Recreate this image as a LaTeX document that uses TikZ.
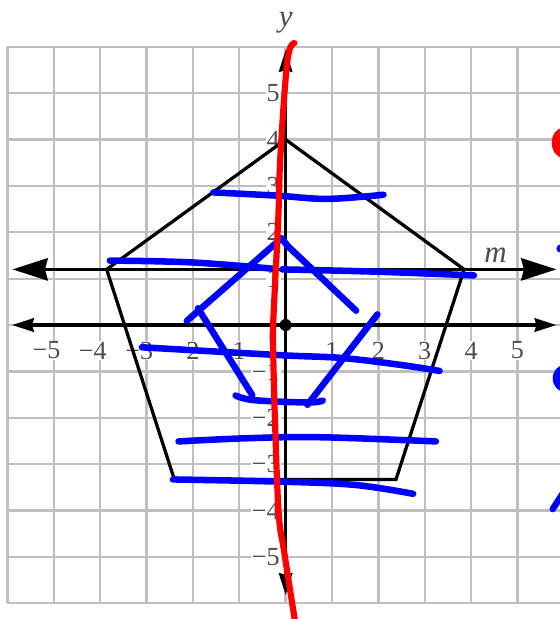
\documentclass[tikz,border=0pt]{standalone}
\usepackage{fontspec}
\setmainfont{Liberation Serif}
\usetikzlibrary{arrows.meta}
\begin{document}
\begin{tikzpicture}[x=1cm,y=1cm,
  gridline/.style={draw=black!25, line width=1.4pt},
  axisline/.style={draw=black, line width=2pt},
  smallarrow/.style={{Stealth[length=0.47cm,width=0.29cm,inset=0.04cm]}-{Stealth[length=0.47cm,width=0.29cm,inset=0.04cm]}},
  bigarrow/.style={{Stealth[length=0.76cm,width=0.48cm,inset=0.06cm]}-{Stealth[length=0.76cm,width=0.48cm,inset=0.06cm]}},
  shape line/.style={draw=black, line width=2pt, line join=miter},
  ticklbl/.style={text=black!70, fill=white, inner sep=0.6pt, font=\fontsize{16}{16}\selectfont},
  axislbl/.style={text=black!70, inner sep=0pt, font=\fontsize{19}{19}\selectfont\itshape},
  pen blue/.style={draw={rgb,255:red,0;green,0;blue,255}, line width=4pt, line cap=round, line join=round},
  pen red/.style={draw={rgb,255:red,255;green,0;blue,0}, line width=3.8pt, line cap=round, line join=round}]
\useasboundingbox (-6.16,-6.34) rectangle (5.90,7.01);
\fill[white] (-6.16,-6.34) rectangle (5.90,7.01);
% grid
\draw[gridline] (-6,-6) grid (6.6,6);
% tick labels
\foreach \n in {1,...,5} {
  \node[ticklbl] (xp\n) at (\n,-0.55) {\n};
  \node[ticklbl] (xn\n) at (-\n,-0.55) {\llap{−}\n};
  \node[ticklbl, anchor=east] (yp\n) at (-0.1,\n) {\n};
  \node[ticklbl, anchor=east] (yn\n) at (-0.1,-\n) {−\n};
}
% axes
\coordinate (xl) at (-5.9,0);
\coordinate (xr) at (5.84,0);
\coordinate (yb) at (0,-5.82);
\coordinate (yt) at (0,5.93);
\coordinate (ml) at (-5.89,1.2);
\coordinate (mr) at (5.84,1.2);
\draw[axisline, smallarrow] (xl) -- (xr);
\draw[axisline, smallarrow] (yb) -- (yt);
\draw[axisline, bigarrow] (ml) -- (mr);
\node[axislbl] (ylab) at (0,6.52) {y};
\node[axislbl] (mlab) at (4.53,1.5) {m};
\fill[black] (0,0) circle (0.13);
% pentagon
\coordinate (pa) at (0,4);
\coordinate (pb) at (3.85,1.2);
\coordinate (pc) at (2.38,-3.33);
\coordinate (pd) at (-2.4,-3.33);
\coordinate (pe) at (-3.86,1.2);
\draw[shape line] (pa) -- (pb) -- (pc) -- (pd) -- (pe) -- cycle;
% blue strokes
\draw[pen blue] plot[smooth, tension=0.6] coordinates {(-1.56,2.86) (-0.18,2.79) (0.90,2.72) (2.11,2.81)};
\draw[pen blue] plot[smooth, tension=0.6] coordinates {(-3.79,1.39) (-2.02,1.35) (-0.22,1.21)};
\draw[pen blue] plot[smooth, tension=0.6] coordinates {(-0.07,1.2) (1.97,1.15) (4.06,1.07)};
\draw[pen blue] (-0.09,1.87) -- (-2.13,0.09);
\draw[pen blue] (-1.89,0.36) -- (-0.72,-1.51);
\draw[pen blue] plot[smooth, tension=0.6] coordinates {(-1.08,-1.52) (-0.68,-1.62) (0.47,-1.67) (0.80,-1.63)};
\draw[pen blue] (0.47,-1.72) -- (1.98,0.23);
\draw[pen blue] (-0.09,1.87) -- (0.06,1.69) -- (1.52,0.31);
\draw[pen blue] plot[smooth, tension=0.6] coordinates {(-3.10,-0.48) (-0.11,-0.65) (1.20,-0.71) (2.48,-0.86) (3.32,-0.99)};
\draw[pen blue] plot[smooth, tension=0.6] coordinates {(-2.31,-2.51) (-0.79,-2.44) (0.75,-2.42) (3.24,-2.51)};
\draw[pen blue] plot[smooth, tension=0.6] coordinates {(-2.43,-3.33) (-0.02,-3.38) (1.51,-3.45) (2.75,-3.64)};
% red stroke
\draw[pen red] plot[smooth, tension=0.6] coordinates {(0.19,6.08) (0.04,5.71) (-0.11,3.7) (-0.16,2.26) (-0.27,0) (-0.27,-0.5) (-0.23,-2.05) (-0.15,-4.05) (-0.03,-4.9) (0.22,-6.5)};
% partial marks at right edge
\fill[red] (5.98,3.93) ellipse [x radius=0.24, y radius=0.32];
\fill[blue] (5.93,1.65) circle (0.09);
\fill[blue] (6.02,-1.15) ellipse [x radius=0.26, y radius=0.29];
\draw[pen blue] (5.76,-3.97) -- (6.0,-3.6);
\end{tikzpicture}
\end{document}
